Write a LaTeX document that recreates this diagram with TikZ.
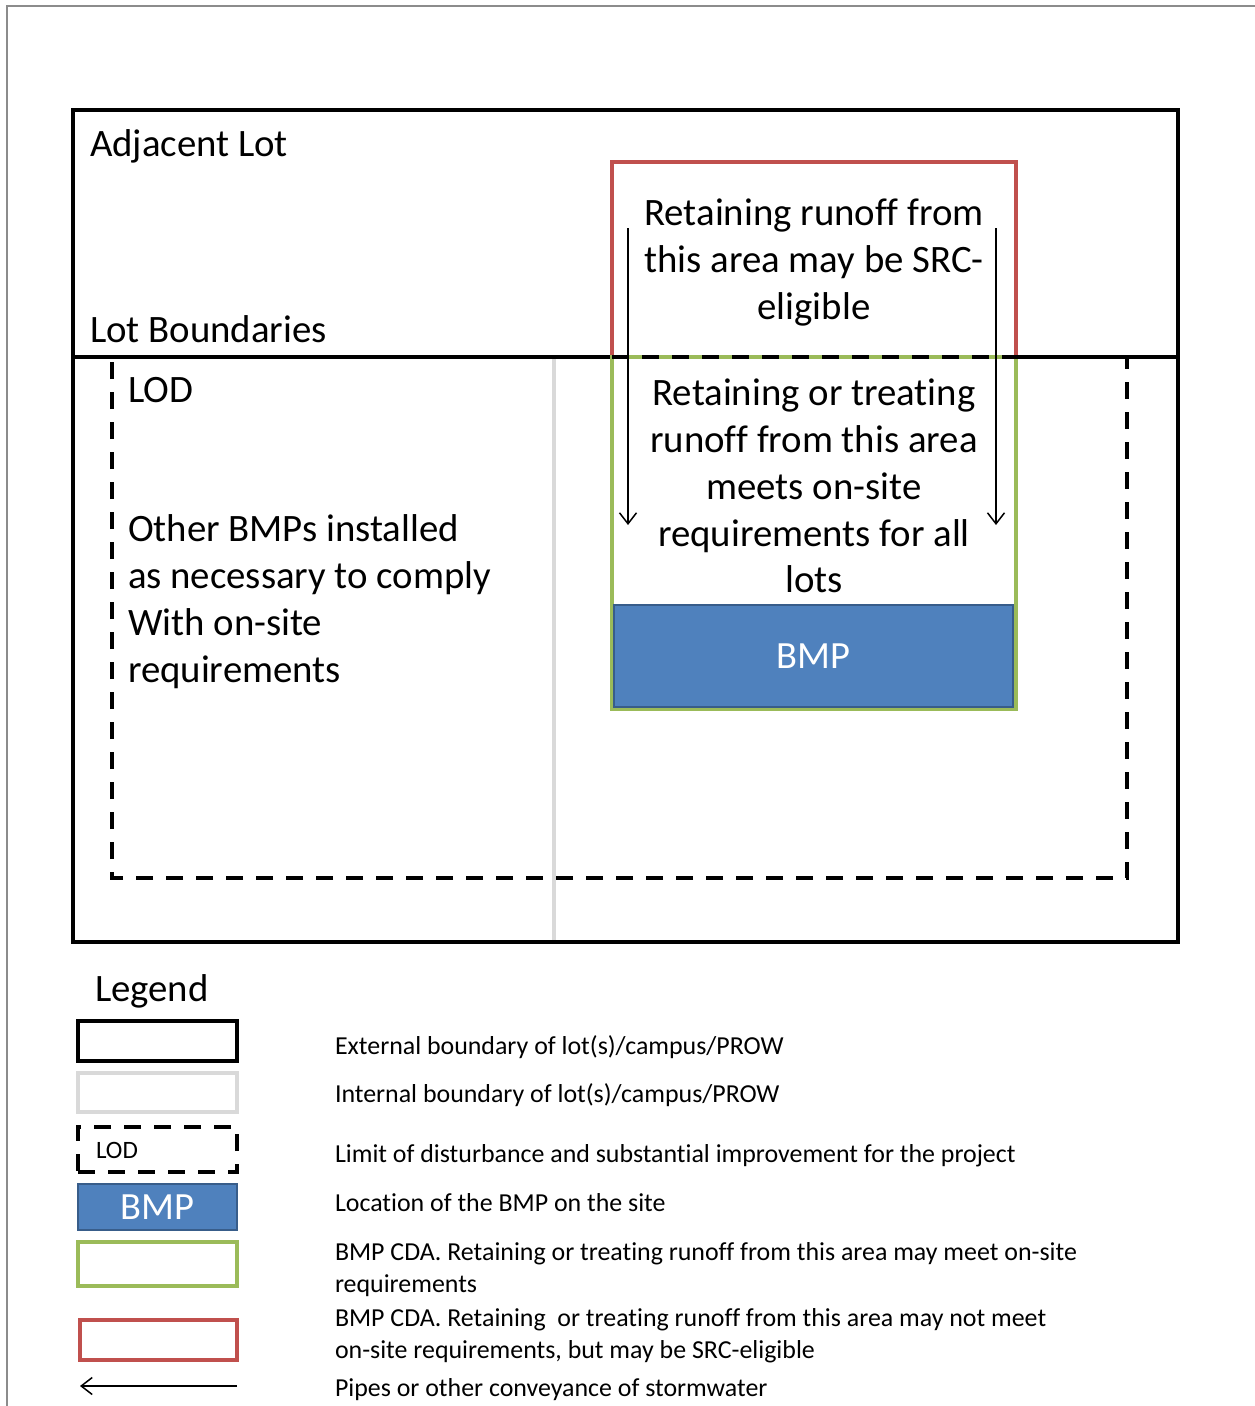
\documentclass[tikz,border=0pt]{standalone}
\usepackage{fontspec}
\setmainfont{Carlito}[Ligatures=NoCommon]
\usetikzlibrary{arrows.meta}
\definecolor{cdared}{HTML}{C0504D}
\definecolor{cdagreen}{HTML}{9BBB59}
\definecolor{bmpblue}{HTML}{4F81BD}
\definecolor{bmpedge}{HTML}{385D8A}
\definecolor{intgray}{HTML}{D9D9D9}
\tikzset{
  every node/.style={outer sep=0pt},
  extb/.style={draw=black, line width=4pt},
  intb/.style={draw=intgray, line width=3.5pt},
  lodb/.style={draw=black, line width=3.5pt, dash pattern=on 17pt off 13pt},
  redb/.style={draw=cdared, line width=3.5pt},
  greenb/.style={draw=cdagreen, line width=3.5pt},
  bmpb/.style={fill=bmpblue, draw=bmpedge, line width=2.5pt},
  pipe/.style={draw=black, line width=1.5pt, -{Straight Barb[length=11pt,width=17pt,line width=1.5pt]}},
  bigtxt/.style={font=\fontsize{38.8}{46.8}\selectfont, inner sep=0pt},
  legtxt/.style={font=\fontsize{25.9}{32}\selectfont, inner sep=0pt, anchor=west, align=left},
}
\begin{document}
\begin{tikzpicture}[x=1pt,y=-1pt]
\useasboundingbox (0,0) rectangle (1255,1406);
% page frame
\draw[draw=gray!90, line width=2pt] (7,1406) -- (7,6) -- (1255,6);
% internal boundary
\draw[intb] (554,357) -- (554,942);
% red area
\node[redb, minimum width=404pt, minimum height=195pt, inner sep=0pt, anchor=north west] (red) at (612,162) {};
% main lot boundary
\node[extb, minimum width=1105pt, minimum height=832pt, inner sep=0pt, anchor=north west] (lot) at (73,110) {};
\draw[extb] (lot.west |- 0,357) coordinate (lbL) -- (lot.east |- 0,357) coordinate (lbR);
% green area
\node[greenb, minimum width=404pt, minimum height=352pt, inner sep=0pt, anchor=north west] (green) at (612,357) {};
% BMP
\node[bmpb, minimum width=399pt, minimum height=102pt, inner sep=0pt, anchor=north west, text=white, font=\fontsize{38.5}{40}\selectfont] (bmp) at (614,605) {BMP};
% LOD
\draw[lodb] (612,357) -- (1127,357) -- (1127,878) -- (112,878) -- (112,362);
\coordinate (lodTL) at (112,362);
% texts
\node[bigtxt, anchor=base west] (adj) at (90,156) {Adjacent Lot};
\node[bigtxt, anchor=base west] (lb) at (90,342) {Lot Boundaries};
\node[bigtxt, anchor=base west] (lod) at (128,402) {LOD};
\node[bigtxt, anchor=north west, align=left] (other) at (128,515) {Other BMPs installed\\as necessary to comply\\With on-site\\requirements};
\node[bigtxt, anchor=north, align=center] (redtxt) at (814,199) {Retaining runoff from\\this area may be SRC-\\eligible};
\node[bigtxt, anchor=north, align=center] (greentxt) at (814,379) {Retaining or treating\\runoff from this area\\meets on-site\\requirements for all\\lots};
% pipes
\coordinate (p1s) at (628,228); \coordinate (p1e) at (628,525);
\coordinate (p2s) at (996,228); \coordinate (p2e) at (996,525);
\draw[pipe] (p1s) -- (p1e);
\draw[pipe] (p2s) -- (p2e);
% legend
\node[bigtxt, anchor=base west] (legend) at (95,1001) {Legend};
\node[extb, minimum width=159pt, minimum height=40pt, inner sep=0pt, anchor=north west] (l1) at (78,1021) {};
\node[intb, minimum width=159pt, minimum height=39pt, inner sep=0pt, anchor=north west] (l2) at (78,1073) {};
\node[lodb, minimum width=159pt, minimum height=45pt, inner sep=0pt, anchor=north west] (l3) at (78,1127) {};
\node[font=\fontsize{25}{30}\selectfont, inner sep=0pt, anchor=west] (l3t) at (96,1150) {LOD};
\node[bmpb, minimum width=159pt, minimum height=46pt, inner sep=0pt, anchor=north west, text=white, font=\fontsize{38.5}{40}\selectfont] (l4) at (78,1184) {BMP};
\node[greenb, minimum width=159pt, minimum height=44pt, inner sep=0pt, anchor=north west] (l5) at (78,1242) {};
\node[redb, minimum width=157pt, minimum height=40pt, inner sep=0pt, anchor=north west] (l6) at (80,1320) {};
\coordinate (l7s) at (237,1386); \coordinate (l7e) at (80,1386);
\draw[pipe] (l7s) -- (l7e);
\node[legtxt] (t1) at (335,1047) {External boundary of lot(s)/campus/PROW};
\node[legtxt] (t2) at (335,1095) {Internal boundary of lot(s)/campus/PROW};
\node[legtxt] (t3) at (335,1156) {Limit of disturbance and substantial improvement for the project};
\node[legtxt] (t4) at (335,1203) {Location of the BMP on the site};
\node[legtxt] (t5) at (335,1270) {BMP CDA. Retaining or treating runoff from this area may meet on-site\\requirements};
\node[legtxt] (t6) at (335,1336) {BMP CDA. Retaining\ \ or treating runoff from this area may not meet\\on-site requirements, but may be SRC-eligible};
\node[legtxt] (t7) at (335,1390) {Pipes or other conveyance of stormwater};
\end{tikzpicture}
\end{document}
